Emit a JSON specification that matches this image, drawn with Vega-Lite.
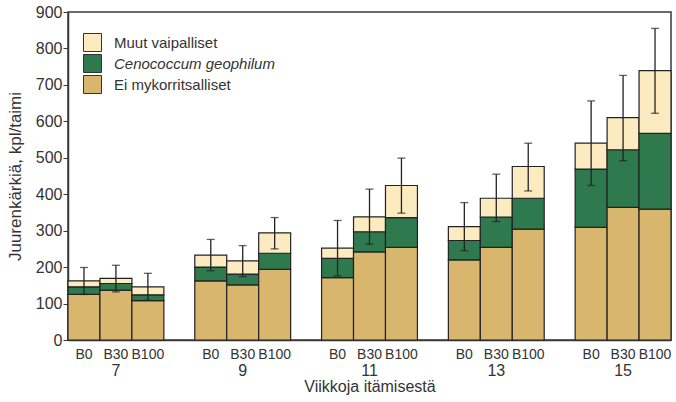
{
  "$schema": "https://vega.github.io/schema/vega-lite/v6.json",
  "autosize": "none",
  "width": 603,
  "height": 328,
  "padding": {"left": 68, "top": 12, "right": 5, "bottom": 62},
  "background": "white",
  "config": {
    "font": "Liberation Sans",
    "view": {"stroke": "#3a3a3a", "strokeWidth": 1.5},
    "axis": {"labelColor": "#333", "titleColor": "#333", "domainColor": "#3a3a3a", "tickColor": "#3a3a3a", "grid": false}
  },
  "datasets": {
    "components": [
      {"component": "Ei mykorritsalliset", "level": 1},
      {"component": "Cenococcum geophilum", "level": 2},
      {"component": "Muut vaipalliset", "level": 3}
    ],
    "stack": [
      {"week": "7", "treatment": "B0", "component": "Ei mykorritsalliset", "value": 125},
      {"week": "7", "treatment": "B0", "component": "Cenococcum geophilum", "value": 21},
      {"week": "7", "treatment": "B0", "component": "Muut vaipalliset", "value": 16},
      {"week": "7", "treatment": "B30", "component": "Ei mykorritsalliset", "value": 137},
      {"week": "7", "treatment": "B30", "component": "Cenococcum geophilum", "value": 18},
      {"week": "7", "treatment": "B30", "component": "Muut vaipalliset", "value": 14},
      {"week": "7", "treatment": "B100", "component": "Ei mykorritsalliset", "value": 108},
      {"week": "7", "treatment": "B100", "component": "Cenococcum geophilum", "value": 16},
      {"week": "7", "treatment": "B100", "component": "Muut vaipalliset", "value": 22},
      {"week": "9", "treatment": "B0", "component": "Ei mykorritsalliset", "value": 162},
      {"week": "9", "treatment": "B0", "component": "Cenococcum geophilum", "value": 38},
      {"week": "9", "treatment": "B0", "component": "Muut vaipalliset", "value": 33},
      {"week": "9", "treatment": "B30", "component": "Ei mykorritsalliset", "value": 151},
      {"week": "9", "treatment": "B30", "component": "Cenococcum geophilum", "value": 30},
      {"week": "9", "treatment": "B30", "component": "Muut vaipalliset", "value": 36},
      {"week": "9", "treatment": "B100", "component": "Ei mykorritsalliset", "value": 194},
      {"week": "9", "treatment": "B100", "component": "Cenococcum geophilum", "value": 44},
      {"week": "9", "treatment": "B100", "component": "Muut vaipalliset", "value": 56},
      {"week": "11", "treatment": "B0", "component": "Ei mykorritsalliset", "value": 171},
      {"week": "11", "treatment": "B0", "component": "Cenococcum geophilum", "value": 53},
      {"week": "11", "treatment": "B0", "component": "Muut vaipalliset", "value": 28},
      {"week": "11", "treatment": "B30", "component": "Ei mykorritsalliset", "value": 242},
      {"week": "11", "treatment": "B30", "component": "Cenococcum geophilum", "value": 55},
      {"week": "11", "treatment": "B30", "component": "Muut vaipalliset", "value": 41},
      {"week": "11", "treatment": "B100", "component": "Ei mykorritsalliset", "value": 254},
      {"week": "11", "treatment": "B100", "component": "Cenococcum geophilum", "value": 82},
      {"week": "11", "treatment": "B100", "component": "Muut vaipalliset", "value": 88},
      {"week": "13", "treatment": "B0", "component": "Ei mykorritsalliset", "value": 220},
      {"week": "13", "treatment": "B0", "component": "Cenococcum geophilum", "value": 53},
      {"week": "13", "treatment": "B0", "component": "Muut vaipalliset", "value": 38},
      {"week": "13", "treatment": "B30", "component": "Ei mykorritsalliset", "value": 254},
      {"week": "13", "treatment": "B30", "component": "Cenococcum geophilum", "value": 83},
      {"week": "13", "treatment": "B30", "component": "Muut vaipalliset", "value": 52},
      {"week": "13", "treatment": "B100", "component": "Ei mykorritsalliset", "value": 304},
      {"week": "13", "treatment": "B100", "component": "Cenococcum geophilum", "value": 85},
      {"week": "13", "treatment": "B100", "component": "Muut vaipalliset", "value": 87},
      {"week": "15", "treatment": "B0", "component": "Ei mykorritsalliset", "value": 309},
      {"week": "15", "treatment": "B0", "component": "Cenococcum geophilum", "value": 160},
      {"week": "15", "treatment": "B0", "component": "Muut vaipalliset", "value": 71},
      {"week": "15", "treatment": "B30", "component": "Ei mykorritsalliset", "value": 364},
      {"week": "15", "treatment": "B30", "component": "Cenococcum geophilum", "value": 158},
      {"week": "15", "treatment": "B30", "component": "Muut vaipalliset", "value": 88},
      {"week": "15", "treatment": "B100", "component": "Ei mykorritsalliset", "value": 359},
      {"week": "15", "treatment": "B100", "component": "Cenococcum geophilum", "value": 208},
      {"week": "15", "treatment": "B100", "component": "Muut vaipalliset", "value": 172}
    ],
    "errors": [
      {"week": "7", "treatment": "B0", "lo": 125, "hi": 199},
      {"week": "7", "treatment": "B30", "lo": 132, "hi": 205},
      {"week": "7", "treatment": "B100", "lo": 109, "hi": 183},
      {"week": "9", "treatment": "B0", "lo": 190, "hi": 276},
      {"week": "9", "treatment": "B30", "lo": 174, "hi": 259},
      {"week": "9", "treatment": "B100", "lo": 250, "hi": 336},
      {"week": "11", "treatment": "B0", "lo": 176, "hi": 328},
      {"week": "11", "treatment": "B30", "lo": 263, "hi": 414},
      {"week": "11", "treatment": "B100", "lo": 348, "hi": 499},
      {"week": "13", "treatment": "B0", "lo": 245, "hi": 377},
      {"week": "13", "treatment": "B30", "lo": 325, "hi": 455},
      {"week": "13", "treatment": "B100", "lo": 409, "hi": 540},
      {"week": "15", "treatment": "B0", "lo": 424, "hi": 656},
      {"week": "15", "treatment": "B30", "lo": 492, "hi": 726},
      {"week": "15", "treatment": "B100", "lo": 622, "hi": 855}
    ]
  },
  "encoding": {
    "x": {
      "field": "week", "type": "ordinal", "sort": ["7", "9", "11", "13", "15"],
      "scale": {"paddingInner": 0.244, "paddingOuter": 0},
      "axis": {"title": "Viikkoja itämisestä", "labelAngle": 0, "ticks": false, "labelPadding": 22, "labelFontSize": 16, "titleFontSize": 16, "titleFontWeight": "normal", "titlePadding": 0, "domainWidth": 1.5}
    },
    "xOffset": {"field": "treatment", "type": "nominal", "sort": ["B0", "B30", "B100"], "scale": {"paddingInner": 0, "paddingOuter": 0}}
  },
  "layer": [
    {
      "data": {"name": "stack"},
      "transform": [
        {"lookup": "component", "from": {"data": {"name": "components"}, "key": "component", "fields": ["level"]}}
      ],
      "mark": {"type": "bar", "stroke": "#222", "strokeWidth": 1.2},
      "encoding": {
        "y": {"field": "value", "type": "quantitative", "stack": "zero",
          "scale": {"domain": [0, 900], "nice": false},
          "axis": {"title": "Juurenkärkiä, kpl/taimi", "values": [0, 100, 200, 300, 400, 500, 600, 700, 800, 900], "labelOverlap": false, "labelFontSize": 16, "titleFontSize": 17, "titleFontWeight": "normal", "tickSize": 5, "labelPadding": 1, "titlePadding": 11, "domainWidth": 1.5}},
        "order": {"field": "level", "type": "quantitative", "sort": "ascending"},
        "color": {"field": "component", "type": "nominal",
          "scale": {"domain": ["Muut vaipalliset", "Cenococcum geophilum", "Ei mykorritsalliset"], "range": ["#fcebc1", "#2e7a4e", "#d8b66e"]},
          "legend": {"title": null, "orient": "none", "legendX": 15, "legendY": 21, "symbolType": "square", "symbolSize": 324, "symbolStrokeColor": "#333", "symbolStrokeWidth": 1, "symbolOpacity": 1, "labelFontSize": 15, "labelLimit": 400, "labelColor": "#333", "labelOffset": 12, "rowPadding": -3,
            "encode": {"labels": {"update": {"fontStyle": {"signal": "datum.label === 'Cenococcum geophilum' ? 'italic' : 'normal'"}}}}}}
      }
    },
    {
      "data": {"name": "errors"},
      "mark": {"type": "rule", "color": "#222", "strokeWidth": 1.3},
      "encoding": {"y": {"field": "lo", "type": "quantitative",
          "axis": {"title": "Juurenkärkiä, kpl/taimi", "values": [0, 100, 200, 300, 400, 500, 600, 700, 800, 900], "labelOverlap": false, "labelFontSize": 16, "titleFontSize": 17, "titleFontWeight": "normal", "tickSize": 5, "labelPadding": 1, "titlePadding": 11, "domainWidth": 1.5}},
        "y2": {"field": "hi"}}
    },
    {
      "data": {"name": "errors"},
      "mark": {"type": "tick", "color": "#222", "thickness": 1.3, "size": 8, "orient": "horizontal"},
      "encoding": {"y": {"field": "lo", "type": "quantitative",
          "axis": {"title": "Juurenkärkiä, kpl/taimi", "values": [0, 100, 200, 300, 400, 500, 600, 700, 800, 900], "labelOverlap": false, "labelFontSize": 16, "titleFontSize": 17, "titleFontWeight": "normal", "tickSize": 5, "labelPadding": 1, "titlePadding": 11, "domainWidth": 1.5}}}
    },
    {
      "data": {"name": "errors"},
      "mark": {"type": "tick", "color": "#222", "thickness": 1.3, "size": 8, "orient": "horizontal"},
      "encoding": {"y": {"field": "hi", "type": "quantitative",
          "axis": {"title": "Juurenkärkiä, kpl/taimi", "values": [0, 100, 200, 300, 400, 500, 600, 700, 800, 900], "labelOverlap": false, "labelFontSize": 16, "titleFontSize": 17, "titleFontWeight": "normal", "tickSize": 5, "labelPadding": 1, "titlePadding": 11, "domainWidth": 1.5}}}
    },
    {
      "data": {"name": "errors"},
      "mark": {"type": "text", "baseline": "top", "dy": 8, "fontSize": 14, "color": "#333"},
      "encoding": {"y": {"datum": 0, "type": "quantitative",
          "axis": {"title": "Juurenkärkiä, kpl/taimi", "values": [0, 100, 200, 300, 400, 500, 600, 700, 800, 900], "labelOverlap": false, "labelFontSize": 16, "titleFontSize": 17, "titleFontWeight": "normal", "tickSize": 5, "labelPadding": 1, "titlePadding": 11, "domainWidth": 1.5}},
        "text": {"field": "treatment"}}
    }
  ]
}
